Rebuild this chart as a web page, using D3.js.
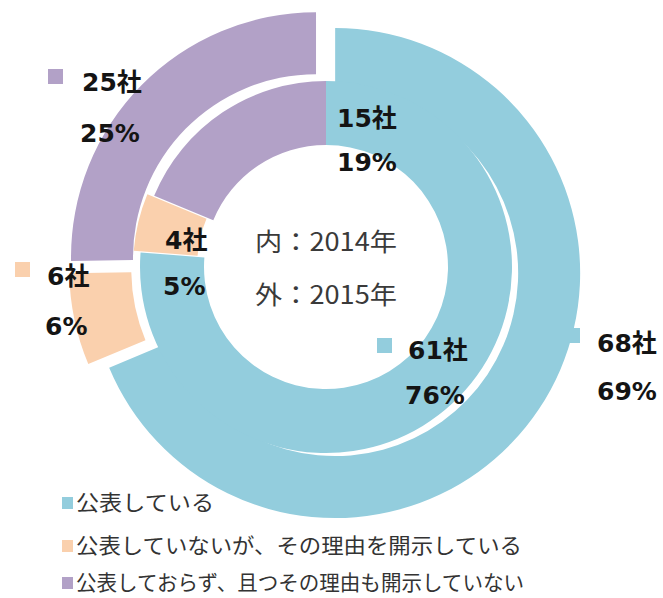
<!DOCTYPE html>
<html>
<head>
<meta charset="utf-8">
<script src="https://cdn.jsdelivr.net/npm/d3@7"></script>
<style>
  html, body { margin: 0; padding: 0; background: #ffffff; }
  svg { display: block; }
</style>
</head>
<body>
<div id="chart"></div>
<script>
// ---------------- data ----------------
const categories = [
  "公表している",
  "公表していないが、その理由を開示している",
  "公表しておらず、且つその理由も開示していない"
];
const companies2015 = [68, 6, 25];   // outer ring
const percent2015   = [69, 6, 25];
const companies2014 = [61, 4, 15];   // inner ring
const percent2014   = [76, 5, 19];
const ringNames = ["内：2014年", "外：2015年"];
const unit = "社";

// ---------------- layout / style ----------------
const W = 663, H = 598;
const cx = 326, cy = 267;
const innerRing = { r0: 122, r1: 186, explode: [0, 7, 0] };
const outerRing = { r0: 183, r1: 245, explode: [11, 12, 14] };
const colors = ["#93CDDD", "#FAD0AD", "#B2A1C7"];
const color = d3.scaleOrdinal().domain(categories).range(colors);

// label anchor layout (square, count line, percent line)
const outerLabelPos = [
  { sq: [565, 328], t: [597, 352], p: [597, 400] },
  { sq: [15, 262],  t: [47, 285],  p: [45, 335] },
  { sq: [48, 69],   t: [82, 91],   p: [80, 142] }
];
const innerLabelPos = [
  { sq: [377, 338], t: [408, 359], p: [405, 404] },
  { sq: null,       t: [165, 249], p: [163, 295] },
  { sq: null,       t: [337, 127], p: [337, 171] }
];

const svg = d3.select("#chart").append("svg")
  .attr("width", W).attr("height", H);

const pie = d3.pie().sort(null).value(d => d);

function drawRing(values, ring) {
  const arcs = pie(values);
  const arc = d3.arc().innerRadius(ring.r0).outerRadius(ring.r1);
  const g = svg.append("g").attr("transform", `translate(${cx},${cy})`);
  g.selectAll("path").data(arcs).enter().append("path")
    .attr("d", arc)
    .attr("fill", (d, i) => color(categories[i]))
    .attr("transform", (d, i) => {
      const m = (d.startAngle + d.endAngle) / 2;
      const e = ring.explode[i];
      return `translate(${Math.sin(m) * e},${-Math.cos(m) * e})`;
    });
}

drawRing(companies2015, outerRing);
drawRing(companies2014, innerRing);

// data labels
const labelFont = "'DejaVu Sans', 'Noto Sans CJK JP', sans-serif";
function drawLabels(counts, pcts, pos) {
  const g = svg.append("g");
  counts.forEach((c, i) => {
    const p = pos[i];
    if (p.sq) {
      g.append("rect")
        .attr("x", p.sq[0]).attr("y", p.sq[1])
        .attr("width", 15).attr("height", 15)
        .attr("fill", color(categories[i]));
    }
    g.append("text")
      .attr("x", p.t[0]).attr("y", p.t[1])
      .attr("font-family", labelFont).attr("font-weight", "bold")
      .attr("font-size", 25).attr("fill", "#141414")
      .text(c + unit);
    g.append("text")
      .attr("x", p.p[0]).attr("y", p.p[1])
      .attr("font-family", labelFont).attr("font-weight", "bold")
      .attr("font-size", 25).attr("fill", "#141414")
      .text(pcts[i] + "%");
  });
}
drawLabels(companies2015, percent2015, outerLabelPos);
drawLabels(companies2014, percent2014, innerLabelPos);

// center text
const centerFont = "'Noto Sans CJK JP', 'Noto Sans', sans-serif";
svg.append("g").selectAll("text").data(ringNames).enter().append("text")
  .attr("x", 255)
  .attr("y", (d, i) => 251 + i * 53)
  .attr("font-family", centerFont)
  .attr("font-size", 25)
  .attr("fill", "#3a3a3a")
  .attr("textLength", 142)
  .attr("lengthAdjust", "spacingAndGlyphs")
  .text(d => d);

// legend
const legendWidths = [138, 446, 448];
const legendRowY = [503, 546, 583];
const legend = svg.append("g");
categories.forEach((c, i) => {
  const yc = legendRowY[i];
  legend.append("rect")
    .attr("x", 62).attr("y", yc - 6)
    .attr("width", 11).attr("height", 12)
    .attr("fill", color(c));
  legend.append("text")
    .attr("x", 76).attr("y", yc + 7)
    .attr("font-family", centerFont)
    .attr("font-size", 21)
    .attr("fill", "#333333")
    .attr("textLength", legendWidths[i])
    .attr("lengthAdjust", "spacingAndGlyphs")
    .text(c);
});
</script>
</body>
</html>
